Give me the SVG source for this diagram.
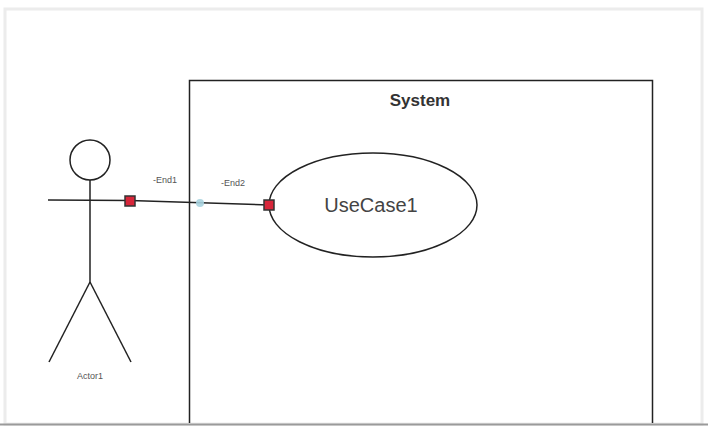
<svg xmlns="http://www.w3.org/2000/svg" width="708" height="429" viewBox="0 0 708 429">
<style>
.ln{stroke:#222;stroke-width:1.5;fill:none}
.sm{font-family:"Liberation Sans",Arial,sans-serif;font-size:9px;fill:#555}
.end{fill:#d8263a;stroke:#333;stroke-width:1.5}
</style>
<rect x="0" y="0" width="708" height="429" fill="#fff"/>
<rect x="5" y="9" width="697" height="415" fill="#fff" stroke="#ececec" stroke-width="3"/>
<line x1="0" y1="424.5" x2="708" y2="424.5" stroke="#9a9a9a" stroke-width="2"/>
<g id="system">
<path class="ln" d="M189.5 423 V80.5 H652.5 V423"/>
<text x="420" y="106" text-anchor="middle" font-family="Liberation Sans,Arial,sans-serif" font-size="17" font-weight="bold" fill="#333">System</text>
</g>
<g id="actor1">
<circle class="ln" cx="90" cy="160" r="20"/>
<line class="ln" x1="90" y1="180" x2="90" y2="282"/>
<line class="ln" x1="48" y1="200" x2="130" y2="200.5"/>
<line class="ln" x1="90" y1="282" x2="49" y2="362"/>
<line class="ln" x1="90" y1="282" x2="131" y2="362"/>
<text class="sm" x="90" y="379" text-anchor="middle">Actor1</text>
</g>
<g id="usecase1">
<ellipse class="ln" cx="373" cy="205" rx="104" ry="52" stroke-width="1.3"/>
<text x="371" y="212" text-anchor="middle" font-family="Liberation Sans,Arial,sans-serif" font-size="20" fill="#444">UseCase1</text>
</g>
<g id="connectors">
<line class="ln" x1="130" y1="200.5" x2="269" y2="205"/>
<rect class="end" x="125" y="196" width="10" height="10"/>
<circle cx="200" cy="203" r="4" fill="#a9d3df" opacity="0.9"/>
<rect class="end" x="264" y="200" width="10" height="10"/>
<text class="sm" x="165" y="183" text-anchor="middle">-End1</text>
<text class="sm" x="233" y="186" text-anchor="middle">-End2</text>
</g>
</svg>
